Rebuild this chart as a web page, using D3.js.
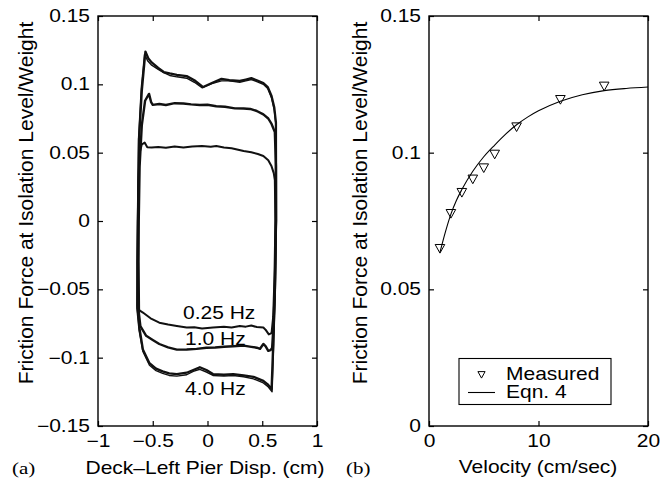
<!DOCTYPE html>
<html><head><meta charset="utf-8">
<script src="https://cdn.jsdelivr.net/npm/d3@7"></script>
<style>
html,body{margin:0;padding:0;background:#fff;}
svg{display:block;}
text{font-family:"Liberation Sans",Arial,Helvetica,sans-serif;fill:#000;}
</style></head>
<body>
<svg id="chart" width="660" height="483"></svg>
<script>
// ---------- DATA ----------
// (a) hysteresis loops: [displacement (cm), friction force / weight]
const loop025 = [[-0.635,-0.0646],[-0.64,-0.03],[-0.635,0.0],[-0.63,0.03],[-0.62,0.05],[-0.60,0.056],[-0.574,0.0574],[-0.55,0.054],[-0.51,0.0537],[-0.45,0.0542],[-0.38,0.0536],[-0.30,0.0545],[-0.22,0.0537],[-0.14,0.0545],[-0.05,0.0548],[0.03,0.0544],[0.08,0.0549],[0.15,0.0538],[0.22,0.0533],[0.28,0.0522],[0.33,0.0512],[0.40,0.0503],[0.46,0.049],[0.51,0.0476],[0.555,0.0445],[0.585,0.040],[0.605,0.035],[0.615,0.03],[0.62,0.0],[0.612,-0.04],[0.60,-0.07],[0.585,-0.082],[0.56,-0.083],[0.53,-0.0795],[0.51,-0.078],[0.45,-0.0776],[0.40,-0.0765],[0.35,-0.0773],[0.295,-0.0769],[0.22,-0.0779],[0.15,-0.0774],[0.05,-0.078],[-0.05,-0.0786],[-0.12,-0.0778],[-0.19,-0.078],[-0.28,-0.0768],[-0.36,-0.0758],[-0.44,-0.0744],[-0.52,-0.0712],[-0.59,-0.067],[-0.635,-0.0646]];
const loop10 = [[-0.626,-0.068],[-0.63,-0.03],[-0.628,0.0],[-0.62,0.04],[-0.60,0.07],[-0.57,0.088],[-0.534,0.093],[-0.515,0.087],[-0.50,0.085],[-0.44,0.0856],[-0.38,0.0849],[-0.30,0.0862],[-0.22,0.086],[-0.15,0.0853],[-0.07,0.0849],[0.0,0.0851],[0.08,0.084],[0.16,0.0836],[0.25,0.0824],[0.33,0.0823],[0.39,0.082],[0.45,0.0805],[0.51,0.078],[0.555,0.075],[0.585,0.071],[0.615,0.065],[0.625,0.04],[0.625,0.0],[0.615,-0.05],[0.60,-0.08],[0.59,-0.093],[0.575,-0.0945],[0.555,-0.095],[0.53,-0.0915],[0.51,-0.090],[0.48,-0.0935],[0.45,-0.0927],[0.40,-0.0921],[0.33,-0.0912],[0.235,-0.0916],[0.15,-0.092],[0.07,-0.0926],[-0.01,-0.0927],[-0.10,-0.0936],[-0.19,-0.094],[-0.28,-0.0941],[-0.36,-0.0925],[-0.44,-0.090],[-0.50,-0.087],[-0.56,-0.084],[-0.613,-0.077],[-0.626,-0.068]];
const loop40a = [[-0.64,-0.062],[-0.635,0.0],[-0.625,0.06],[-0.60,0.095],[-0.567,0.124],[-0.54,0.119],[-0.51,0.116],[-0.45,0.112],[-0.40,0.109],[-0.345,0.108],[-0.28,0.107],[-0.19,0.106],[-0.12,0.103],[-0.04,0.098],[0.04,0.101],[0.128,0.104],[0.20,0.103],[0.295,0.1025],[0.35,0.1035],[0.40,0.1045],[0.45,0.103],[0.51,0.101],[0.55,0.098],[0.585,0.0915],[0.61,0.083],[0.625,0.072],[0.625,0.0],[0.615,-0.05],[0.60,-0.09],[0.585,-0.123],[0.55,-0.1195],[0.51,-0.117],[0.42,-0.114],[0.33,-0.113],[0.235,-0.112],[0.15,-0.1125],[0.05,-0.112],[-0.01,-0.109],[-0.07,-0.107],[-0.13,-0.109],[-0.19,-0.111],[-0.28,-0.112],[-0.35,-0.1115],[-0.41,-0.110],[-0.47,-0.108],[-0.53,-0.104],[-0.59,-0.094],[-0.62,-0.079],[-0.64,-0.062]];
const loop40b = [[-0.645,-0.064],[-0.64,0.0],[-0.63,0.06],[-0.605,0.097],[-0.575,0.122],[-0.545,0.117],[-0.51,0.114],[-0.45,0.111],[-0.40,0.1085],[-0.345,0.1065],[-0.28,0.1055],[-0.19,0.1045],[-0.12,0.1015],[-0.05,0.0975],[0.04,0.1005],[0.128,0.1025],[0.20,0.1025],[0.295,0.1015],[0.35,0.1025],[0.40,0.1035],[0.45,0.102],[0.51,0.100],[0.55,0.097],[0.585,0.090],[0.61,0.081],[0.628,0.068],[0.63,0.0],[0.62,-0.05],[0.605,-0.09],[0.59,-0.125],[0.55,-0.121],[0.51,-0.1185],[0.42,-0.1155],[0.33,-0.114],[0.235,-0.113],[0.15,-0.1135],[0.05,-0.113],[-0.01,-0.1105],[-0.07,-0.1085],[-0.13,-0.110],[-0.19,-0.1125],[-0.28,-0.1135],[-0.35,-0.113],[-0.41,-0.1115],[-0.47,-0.1095],[-0.53,-0.1055],[-0.59,-0.0955],[-0.625,-0.080],[-0.645,-0.064]];
const loopLabels = ["0.25 Hz","1.0 Hz","4.0 Hz"];
const aXTicks = [-1,-0.5,0,0.5,1];
const aXTickLabels = ["\u22121","\u22120.5","0","0.5","1"];
const aYTicks = [-0.15,-0.1,-0.05,0,0.05,0.1,0.15];
const aYTickLabels = ["\u22120.15","\u22120.1","\u22120.05","0","0.05","0.1","0.15"];

// (b) friction vs velocity
const velocity = [1,2,3,4,5,6,8,12,16];
const measured = [0.065,0.0778,0.0855,0.0904,0.0945,0.0995,0.1095,0.1195,0.1244];
const eqnVelocity = [1,1.5,2,2.5,3,4,5,6,7,8,9,10,12,14,16,18,20];
const eqnForce = [0.0635,0.0710,0.0775,0.0825,0.0865,0.0932,0.0985,0.1028,0.1068,0.1102,0.1130,0.1153,0.1188,0.1212,0.1227,0.1235,0.1240];
const bXTicks = [0,10,20];
const bXTickLabels = ["0","10","20"];
const bYTicks = [0,0.05,0.1,0.15];
const bYTickLabels = ["0","0.05","0.1","0.15"];
const legendLabels = ["Measured","Eqn. 4"];

// ---------- DRAW ----------
const SX = 1.2, FS = 17.5;
const svg = d3.select("#chart");
svg.append("rect").attr("width",660).attr("height",483).attr("fill","#fff");

function hText(g, x, y, str, anchor, family){
  return g.append("text")
    .attr("transform",`translate(${x},${y}) scale(${SX},1)`)
    .attr("text-anchor",anchor||"start")
    .style("font-size",FS+"px")
    .style("font-family",family||null)
    .text(str);
}
function scaleTickText(sel){
  sel.selectAll(".tick text").each(function(){
    const t = d3.select(this);
    const x = +(t.attr("x")||0);
    t.attr("x", x/SX).attr("transform",`scale(${SX},1)`)
     .style("font-size",FS+"px").style("font-family",'"Liberation Sans",Arial,sans-serif').attr("fill","#000");
  });
}
function drawFrame(x, y, xt, xl, yt, yl){
  const [x0,x1] = x.range(), [y0,y1] = y.range();
  const TL = 5;
  const gb = svg.append("g").attr("transform",`translate(0,${y0})`)
    .call(d3.axisBottom(x).tickValues(xt).tickFormat((d,i)=>xl[i]).tickSizeInner(-TL).tickSizeOuter(0).tickPadding(9));
  gb.selectAll(".tick text").attr("dy","0.71em");
  const gl = svg.append("g").attr("transform",`translate(${x0},0)`)
    .call(d3.axisLeft(y).tickValues(yt).tickFormat((d,i)=>yl[i]).tickSizeInner(-TL).tickSizeOuter(0).tickPadding(8));
  const gt = svg.append("g").attr("transform",`translate(0,${y1})`)
    .call(d3.axisTop(x).tickValues(xt).tickFormat("").tickSizeInner(-TL).tickSizeOuter(0));
  const gr = svg.append("g").attr("transform",`translate(${x1},0)`)
    .call(d3.axisRight(y).tickValues(yt).tickFormat("").tickSizeInner(-TL).tickSizeOuter(0));
  [gb,gl,gt,gr].forEach(g=>{
    g.select(".domain").remove();
    g.selectAll(".tick line").attr("stroke","#000").attr("stroke-width",1.2);
  });
  scaleTickText(gb); scaleTickText(gl);
  gb.selectAll(".tick text").attr("y", 9);
  svg.append("rect").attr("x",x0).attr("y",y1).attr("width",x1-x0).attr("height",y0-y1)
    .attr("fill","none").attr("stroke","#000").attr("stroke-width",1.4);
}

// ----- panel (a)
const xa = d3.scaleLinear().domain([-1,1]).range([98,317]);
const ya = d3.scaleLinear().domain([-0.15,0.15]).range([426,16]);
const lineA = d3.line().x(d=>xa(d[0])).y(d=>ya(d[1]));
const ga = svg.append("g");
[[loop40b,1.4],[loop40a,2.3],[loop10,2.4],[loop025,2.0]].forEach(([d,w])=>{
  ga.append("path").datum(d).attr("d",lineA).attr("fill","none")
    .attr("stroke","#111").attr("stroke-width",w).attr("stroke-linejoin","round");
});
drawFrame(xa, ya, aXTicks, aXTickLabels, aYTicks, aYTickLabels);
const loopLabelPos = [[183,319],[185,345],[185,395]];
loopLabels.forEach((s,i)=>hText(svg, loopLabelPos[i][0], loopLabelPos[i][1], s, "start"));
hText(svg, 205, 474, "Deck\u2013Left Pier Disp. (cm)", "middle");
hText(svg, 12, 474, "(a)", "start", '"Liberation Serif","Times New Roman",serif');
svg.append("text").attr("transform","translate(33,203) rotate(-90)").attr("text-anchor","middle")
  .style("font-size","21px").text("Friction Force at Isolation Level/Weight");

// ----- panel (b)
const xb = d3.scaleLinear().domain([0,20]).range([429,648]);
const yb = d3.scaleLinear().domain([0,0.15]).range([426,16]);
const eqnData = eqnVelocity.map((v,i)=>[v,eqnForce[i]]);
svg.append("path").datum(eqnData)
  .attr("d", d3.line().x(d=>xb(d[0])).y(d=>yb(d[1])).curve(d3.curveMonotoneX))
  .attr("fill","none").attr("stroke","#000").attr("stroke-width",1.1);
const tri = s => `M${-s},${-s*0.8}L${s},${-s*0.8}L0,${s}Z`;
svg.append("g").selectAll("path").data(velocity).join("path")
  .attr("transform",(d,i)=>`translate(${xb(d)},${yb(measured[i])})`)
  .attr("d", tri(4.8)).attr("fill","none").attr("stroke","#000").attr("stroke-width",1);
drawFrame(xb, yb, bXTicks, bXTickLabels, bYTicks, bYTickLabels);
hText(svg, 538, 473, "Velocity (cm/sec)", "middle");
hText(svg, 346, 474, "(b)", "start", '"Liberation Serif","Times New Roman",serif');
svg.append("text").attr("transform","translate(367,203) rotate(-90)").attr("text-anchor","middle")
  .style("font-size","21px").text("Friction Force at Isolation Level/Weight");

// legend
const lg = svg.append("g");
lg.append("rect").attr("x",459).attr("y",358.5).attr("width",152).attr("height",46)
  .attr("fill","#fff").attr("stroke","#000").attr("stroke-width",1.1);
lg.append("path").attr("transform","translate(481.5,374.5)").attr("d",tri(3.6))
  .attr("fill","none").attr("stroke","#000").attr("stroke-width",1);
lg.append("line").attr("x1",468).attr("x2",495).attr("y1",392.5).attr("y2",392.5)
  .attr("stroke","#000").attr("stroke-width",1.1);
hText(lg, 506, 380, legendLabels[0], "start");
hText(lg, 506, 398, legendLabels[1], "start");
</script>
</body></html>
